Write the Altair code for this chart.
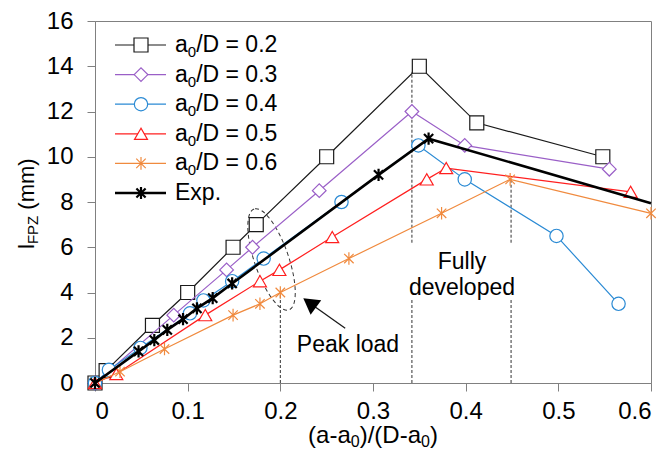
import altair as alt
import pandas as pd

FONT = "Liberation Sans"

series_labels = ["a₀/D = 0.2", "a₀/D = 0.3", "a₀/D = 0.4", "a₀/D = 0.5", "a₀/D = 0.6", "Exp."]

x_02 = [0, 0.012, 0.062, 0.1, 0.149, 0.174, 0.25, 0.35, 0.412, 0.548]
y_02 = [0, 0.55, 2.55, 4.0, 6.0, 7.0, 10.0, 14.0, 11.5, 10.0]
x_03 = [0, 0.085, 0.142, 0.17, 0.242, 0.342, 0.399, 0.555]
y_03 = [0, 3.0, 5.0, 6.0, 8.5, 12.0, 10.5, 9.45]
x_04 = [0, 0.015, 0.049, 0.1025, 0.117, 0.148, 0.182, 0.266, 0.349, 0.399, 0.498, 0.565]
y_04 = [0, 0.58, 1.55, 3.08, 3.65, 4.5, 5.5, 8.0, 10.5, 9.0, 6.5, 3.5]
x_05 = [0, 0.023, 0.119, 0.178, 0.199, 0.256, 0.358, 0.379, 0.578]
y_05 = [0, 0.4, 3.0, 4.5, 5.0, 6.45, 9.0, 9.5, 8.45]
x_06 = [0, 0.027, 0.075, 0.149, 0.178, 0.2, 0.274, 0.374, 0.448, 0.6]
y_06 = [0, 0.5, 1.5, 3.0, 3.5, 4.0, 5.5, 7.5, 9.0, 7.5]
x_exp = [0, 0.047, 0.064, 0.078, 0.095, 0.11, 0.127, 0.148, 0.306, 0.36, 0.6]
y_exp = [0, 1.4, 1.9, 2.35, 2.82, 3.3, 3.75, 4.4, 9.2, 10.8, 7.95]

x_ticks = [0, 0.1, 0.2, 0.3, 0.4, 0.5, 0.6]
y_ticks = [0, 2, 4, 6, 8, 10, 12, 14, 16]

# annotation guides (vertical dashed lines)
guide_x = [0.2, 0.342, 0.342, 0.449, 0.449]
guide_y0 = [0, 0, 6.2, 0, 6.2]
guide_y1 = [4.0, 3.67, 13.75, 3.67, 9.0]

# styles
colors = ["#1a1a1a", "#9a5fc7", "#2a8ad4", "#ff1f1f", "#f08a3e", "#000000"]
STAR = "M0,-1L0,1M-0.75,-0.75L0.75,0.75M-0.75,0.75L0.75,-0.75"
shapes = ["square", "diamond", "circle", "triangle-up", STAR, STAR]
sizes = [196, 150, 165, 180, 196, 240]

# Arial / Liberation Sans advance widths (em) for manual sub-scripted titles
W = {"(": 0.333, ")": 0.333, "a": 0.556, "-": 0.333, "/": 0.278, "D": 0.722,
     "0": 0.556, "l": 0.222, "F": 0.611, "P": 0.667, "Z": 0.611, "m": 0.833,
     " ": 0.278, "=": 0.584, ".": 0.278, "2": 0.556}


def tw(s, fs):
    return sum(W.get(c, 0.556) for c in s) * fs


xs = [x_02, x_03, x_04, x_05, x_06, x_exp]
ys = [y_02, y_03, y_04, y_05, y_06, y_exp]
rows = []
for lab, xv, yv in zip(series_labels, xs, ys):
    for i, (a, b) in enumerate(zip(xv, yv)):
        rows.append({"series": lab, "x": a, "y": b, "i": i})
df = pd.DataFrame(rows)

stroke_scale = alt.Scale(domain=series_labels, range=colors)
shape_scale = alt.Scale(domain=series_labels, range=shapes)
size_scale = alt.Scale(domain=series_labels, range=sizes)
is_exp = alt.datum.series == "Exp."
line_w = alt.condition(is_exp, alt.value(2.6), alt.value(1.2))
pt_w = alt.condition(is_exp, alt.value(2.2), alt.value(1.2))

X = alt.X("x:Q", scale=alt.Scale(domain=[0, 0.6], nice=False),
          axis=alt.Axis(values=x_ticks, format="~g", title=None,
                        grid=False, tickSize=8, labelPadding=8))
Y = alt.Y("y:Q", scale=alt.Scale(domain=[0, 16], nice=False),
          axis=alt.Axis(values=y_ticks, format="d", title=None,
                        grid=False, tickSize=8, labelPadding=14))

base = alt.Chart(df)
layers = []
for lab in series_labels:
    sub = base.transform_filter(alt.datum.series == lab)
    layers.append(sub.mark_line().encode(
        x=X, y=Y, order="i:Q",
        stroke=alt.Stroke("series:N", scale=stroke_scale, legend=None),
        strokeWidth=line_w,
    ))
    layers.append(sub.transform_filter(
        (alt.datum.series != "Exp.") | (alt.datum.x < 0.6)
    ).mark_point(filled=False, opacity=1).encode(
        x=X, y=Y,
        stroke=alt.Stroke("series:N", scale=stroke_scale, legend=None),
        strokeWidth=pt_w,
        shape=alt.Shape("series:N", scale=shape_scale, legend=None),
        size=alt.Size("series:N", scale=size_scale, legend=None),
        fill=alt.value("white"),
    ))

guides = pd.DataFrame({"x": guide_x, "y": guide_y0, "y2": guide_y1})
guide_layer = alt.Chart(guides).mark_rule(
    color="#333333", strokeWidth=1, strokeDash=[3, 2]
).encode(x=X, y=Y, y2="y2:Q")

# dashed ellipse around the peak-load points
ell = pd.DataFrame({"x": [0.1905], "y": [5.46]})
ellipse_layer = alt.Chart(ell).mark_point(
    shape="M0,-1A0.32,1,0,1,0,0,1A0.32,1,0,1,0,0,-1Z",
    size=11400, angle=341, filled=False, stroke="#333333",
    strokeWidth=1, strokeDash=[4, 3], opacity=1
).encode(x=X, y=Y)

# arrow
arrow = pd.DataFrame({"x": [0.27], "y": [2.42], "x2": [0.2316], "y2": [3.54]})
arrow_line = alt.Chart(arrow).mark_rule(color="#1a1a1a", strokeWidth=1.3).encode(
    x=X, y=Y, x2="x2:Q", y2="y2:Q")
head = pd.DataFrame({"x": [0.2316], "y": [3.54]})
arrow_head = alt.Chart(head).mark_point(
    shape="triangle-up", size=324, angle=306, filled=True, color="#000000", opacity=1
).encode(x=X, y=Y)

notes = pd.DataFrame({"x": [0.273, 0.396, 0.396], "y": [1.68, 5.36, 4.19],
                      "t": ["Peak load", "Fully", "developed"]})
note_layer = alt.Chart(notes).mark_text(
    font=FONT, fontSize=23, color="#000000", align="center", baseline="middle"
).encode(x=X, y=Y, text="t:N")

# manual legend (line through marker), sub-scripted label pieces
LFS, LSUB = 23, 15
pre, subs, post = [], [], []
for lab in series_labels:
    if "₀" in lab:
        a, b = lab.split("₀")
        pre.append(a); subs.append("0"); post.append(b)
    else:
        pre.append(lab); subs.append(""); post.append("")
leg = pd.DataFrame({"series": series_labels, "row": list(range(len(series_labels))),
                    "pre": pre, "sub": subs, "post": post})
legbase = alt.Chart(leg).transform_calculate(ly="24 + 29.6 * datum.row")
LY = alt.Y("ly:Q", scale=None)
leg_line = legbase.mark_rule().encode(
    x=alt.value(20), x2=alt.value(71), y=LY,
    stroke=alt.Stroke("series:N", scale=stroke_scale, legend=None),
    strokeWidth=line_w,
)
leg_pt = legbase.mark_point(filled=False, opacity=1).encode(
    x=alt.value(46), y=LY,
    stroke=alt.Stroke("series:N", scale=stroke_scale, legend=None),
    strokeWidth=pt_w,
    shape=alt.Shape("series:N", scale=shape_scale, legend=None),
    size=alt.Size("series:N", scale=size_scale, legend=None),
    fill=alt.value("white"),
)
tx0 = 80
leg_t1 = legbase.mark_text(font=FONT, fontSize=LFS, align="left", baseline="middle",
                           color="#000000").encode(x=alt.value(tx0), y=LY, text="pre:N")
leg_t2 = legbase.mark_text(font=FONT, fontSize=LSUB, align="left", baseline="middle",
                           color="#000000", dy=7).encode(
    x=alt.value(tx0 + tw("a", LFS)), y=LY, text="sub:N")
leg_t3 = legbase.mark_text(font=FONT, fontSize=LFS, align="left", baseline="middle",
                           color="#000000").encode(
    x=alt.value(tx0 + tw("a", LFS) + tw("0", LSUB)), y=LY, text="post:N")

# x-axis title with subscripts
XFS, XSUB = 24, 16
xparts = ["(a-a", "0", ")/(D-a", "0", ")"]
xsizes = [XFS, XSUB, XFS, XSUB, XFS]
total = sum(tw(p, s) for p, s in zip(xparts, xsizes))
cur = 278 - total / 2
xt_layers = []
for p, s in zip(xparts, xsizes):
    xt_layers.append(alt.Chart(pd.DataFrame({"t": [p]})).mark_text(
        font=FONT, fontSize=s, align="left", baseline="middle", color="#000000",
        dy=(6 if s == XSUB else 0)).encode(x=alt.value(cur), y=alt.value(415), text="t:N"))
    cur += tw(p, s)

# y-axis title with subscript (rotated, reads bottom to top)
YFS, YSUB = 22, 15
yparts = ["l", "FPZ", "(mm)"]
ysizes = [YFS, YSUB, YFS]
ypos = 228
yt_layers = []
for p, s in zip(yparts, ysizes):
    yt_layers.append(alt.Chart(pd.DataFrame({"t": [p]})).mark_text(
        font=FONT, fontSize=s, angle=270, align="left", baseline="middle",
        color="#000000", dy=(6 if s == YSUB else 0)).encode(
        x=alt.value(-68), y=alt.value(ypos), text="t:N"))
    ypos -= tw(p, s) + (tw(" ", YFS) if p == "FPZ" else 0)

chart = alt.layer(
    guide_layer, ellipse_layer, arrow_line, arrow_head, note_layer,
    *layers, leg_line, leg_pt, leg_t1, leg_t2, leg_t3, *xt_layers, *yt_layers
).properties(
    width=556, height=362,
    padding={"left": 87, "top": 13, "right": 11, "bottom": 70},
    autosize=alt.AutoSizeParams(type="none"),
    background="white",
).configure_view(
    stroke="#808080", strokeWidth=1
).configure_axis(
    labelFont=FONT, labelFontSize=24, labelColor="#000000",
    domainColor="#808080", tickColor="#808080", domainWidth=1, tickWidth=1,
)

chart.save("out.html", embed_options={"renderer": "svg", "actions": False})
